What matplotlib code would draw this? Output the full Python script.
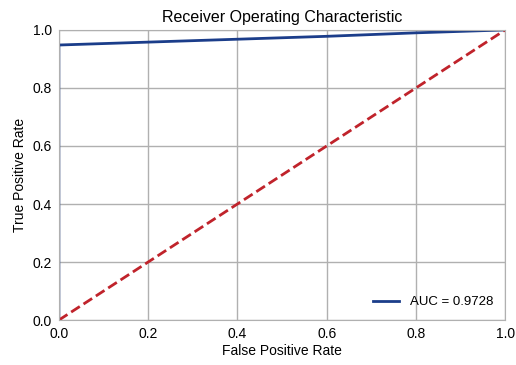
import matplotlib
matplotlib.use('Agg')
import matplotlib.pyplot as plt

plt.rcParams['font.family'] = ['Liberation Sans', 'DejaVu Sans']

# ROC data
fpr = [0.0, 0.0, 0.2, 0.4, 0.6, 0.8, 1.0]
tpr = [0.0, 0.948, 0.958, 0.968, 0.978, 0.99, 1.0]
roc_auc = 0.9728
diag = [0.0, 1.0]

fig = plt.figure(figsize=(5.16, 3.65), dpi=100)
ax = fig.add_axes([0.114, 0.123, 0.865, 0.795])
ax.plot(fpr, tpr, color='#1b3d8a', linewidth=2, label='AUC = %0.4f' % roc_auc)
ax.plot(diag, diag, color='#c0232b', linestyle='--', linewidth=2)
ax.set_xlim(0, 1)
ax.set_ylim(0, 1)
ax.grid(True, color='#b0b0b0', linewidth=1)
ax.set_axisbelow(True)
for s in ax.spines.values():
    s.set_color('#b0b0b0')
ax.tick_params(length=0, labelsize=10, pad=5)
ax.set_title('Receiver Operating Characteristic', fontsize=11.5, pad=6)
ax.set_xlabel('False Positive Rate', fontsize=10, labelpad=2)
ax.set_ylabel('True Positive Rate', fontsize=10, labelpad=4)
ax.legend(loc='lower right', frameon=False, fontsize=9.5)

plt.savefig('out.png', dpi=100)
